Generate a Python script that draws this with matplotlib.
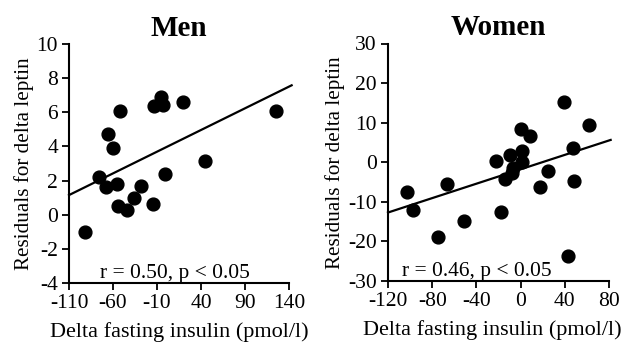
import matplotlib
matplotlib.use("Agg")
import matplotlib.pyplot as plt
import numpy as np

# Men: delta fasting insulin vs residuals for delta leptin
men_x = [-92, -76, -68, -66, -60, -55, -54, -52, -44, -36, -28, -15, -13, -6, -3, -0.5, 19, 45, 125]
men_y = [-1.0, 2.2, 1.6, 4.7, 3.9, 1.8, 0.5, 6.1, 0.3, 1.0, 1.7, 0.6, 6.35, 6.9, 6.4, 2.4, 6.6, 3.15, 6.1]
men_line_x = [-110, 143]
men_line_y = [1.15, 7.58]

# Women
women_x = [-103, -97, -75, -67, -51, -22, -18, -14, -10, -7.5, -6.6, 0, 0.9, 0.9, 8.4, 17.5, 25, 39.6, 42.5, 47.5, 48, 62]
women_y = [-7.6, -12.0, -18.8, -5.4, -14.9, 0.4, -12.5, -4.2, 1.9, -2.8, -1.5, 8.4, 2.9, 0.15, 6.6, -6.2, -2.1, 15.1, -23.7, 3.5, -4.7, 9.4]
women_line_x = [-120, 81.5]
women_line_y = [-12.7, 5.64]

plt.rcParams["font.family"] = ["Liberation Serif"]
plt.rcParams["axes.unicode_minus"] = False

fig = plt.figure(figsize=(6.25, 3.45), dpi=100)
ax1 = fig.add_axes([69 / 625, 1 - 283 / 345, 220 / 625, 239 / 345])
ax2 = fig.add_axes([388 / 625, 1 - 281 / 345, 221 / 625, 237.5 / 345])

panels = [
    (ax1, "Men", men_x, men_y, men_line_x, men_line_y, (-110, 140), np.arange(-110, 141, 50),
     (-4, 10), np.arange(-4, 11, 2), "r = 0.50, p < 0.05", 0.48, 0.5),
    (ax2, "Women", women_x, women_y, women_line_x, women_line_y, (-120, 80), np.arange(-120, 81, 40),
     (-30, 30), np.arange(-30, 31, 10), "r = 0.46, p < 0.05", 0.40, 0.47),
]

for ax, title, x, y, lx, ly, xlim, xticks, ylim, yticks, note, nx, lxpos in panels:
    ax.scatter(x, y, s=85, color="black", zorder=3, clip_on=False)
    ax.plot(lx, ly, color="black", lw=1.6, clip_on=False)
    ax.set_xlim(*xlim)
    ax.set_ylim(*ylim)
    ax.set_xticks(xticks)
    ax.set_yticks(yticks)
    for s in ["top", "right"]:
        ax.spines[s].set_visible(False)
    for s in ["left", "bottom"]:
        ax.spines[s].set_linewidth(1.5)
    ax.tick_params(direction="out", length=5, width=1.3, labelsize=15.5, pad=3)
    ax.set_title(title, fontsize=21, fontweight="bold", pad=6)
    ax.set_xlabel("Delta fasting insulin (pmol/l)", fontsize=16)
    ax.xaxis.set_label_coords(lxpos, -0.165)
    ax.set_ylabel("Residuals for delta leptin", fontsize=15.2, labelpad=2)
    ax.text(nx, 0.0, note, transform=ax.transAxes, ha="center", va="bottom", fontsize=15.5)

fig.savefig("out.png", dpi=100)
